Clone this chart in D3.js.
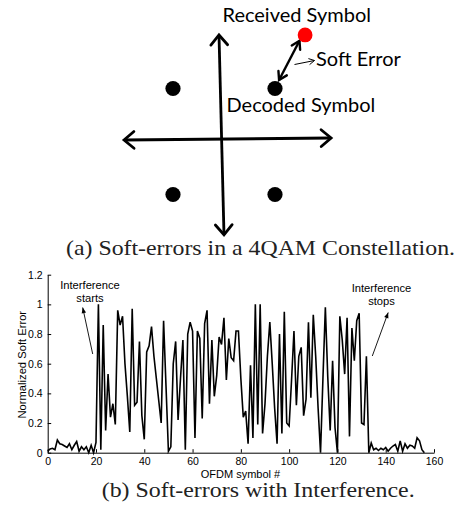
<!DOCTYPE html>
<html><head><meta charset="utf-8">
<script src="https://cdn.jsdelivr.net/npm/d3@7"></script>
<style>
html,body{margin:0;padding:0;background:#fff;}
svg{display:block;}
</style></head>
<body>
<svg id="c" width="459" height="520"></svg>
<script>
// ---------- Panel (a): 4QAM constellation (I/Q units) ----------
const constellationI = [-1, 1, -1, 1];
const constellationQ = [1, 1, -1, -1];
const receivedSymbol = [1.59, 2.01];           // [I, Q]
const softErrorArrow = [[1.08, 1.16], [1.48, 1.90]];
const axisI = [[-1.96, 0.028], [2.10, 0.066]]; // in-phase axis ends
const axisQ = [[-0.098, 2.01], [0.0, -1.76]];  // quadrature axis ends
const labelsA = ["Received Symbol", "Soft Error", "Decoded Symbol"];
const captionA = "(a) Soft-errors in a 4QAM Constellation.";

// ---------- Panel (b): soft error per OFDM symbol ----------
const softError = [
 0.01,0.025,0.03,0.02,0.085,0.06,0.055,0.045,0.035,0.06,
 0.02,0.05,0.075,0.01,0.04,0.02,0.04,0.0,0.05,0.0,
 0.07,1.0,0.02,0.86,0.15,0.53,0.24,0.33,0.19,0.96,
 0.86,0.92,0.6,0.38,0.14,0.97,0.32,0.34,0.75,0.25,
 0.09,0.68,0.72,0.85,0.65,0.5,0.35,0.2,0.89,0.45,
 0.01,0.04,0.6,0.75,0.22,0.5,0.76,0.02,0.8,0.88,
 0.82,0.1,0.82,0.77,0.23,0.87,0.96,0.33,0.76,0.38,
 0.52,0.78,0.73,0.91,0.49,0.77,0.64,0.62,0.82,0.82,
 0.5,0.24,0.28,0.06,0.59,0.10,1.0,0.19,1.0,0.13,
 0.33,0.65,0.88,0.6,0.3,0.06,0.8,0.13,0.95,0.2,
 0.18,0.49,0.82,0.32,0.65,0.71,0.25,0.36,0.88,0.37,
 0.93,0.65,0.3,0.0,0.5,0.98,0.51,0.15,0.62,0.17,
 0.0,0.92,0.76,0.53,0.91,0.11,0.84,0.62,0.89,0.94,
 0.2,0.19,0.65,0.0,0.065,0.02,0.03,0.015,0.03,0.02,
 0.035,0.01,0.03,0.045,0.055,0.01,0.08,0.01,0.06,0.03,
 0.05,0.045,0.03,0.1,0.08,0.02,0.0
];
const xTicks = [0,20,40,60,80,100,120,140,160];
const yTicks = [0,0.2,0.4,0.6,0.8,1,1.2];
const xLabel = "OFDM symbol #";
const yLabel = "Normalized Soft Error";
const annotStart = ["Interference", "starts"];
const annotStop = ["Interference", "stops"];
const captionB = "(b) Soft-errors with Interference.";

const svg = d3.select("#c");

// ---- panel (a) ----
const xA = d3.scaleLinear().domain([-1, 1]).range([173, 275]);
const yA = d3.scaleLinear().domain([-1, 1]).range([194.5, 88.5]);
const gA = svg.append("g");

function chevron(g, x1, y1, x2, y2, len, ang, sw) {
  const a = Math.atan2(y2 - y1, x2 - x1);
  const p1 = [x2 - len * Math.cos(a - ang), y2 - len * Math.sin(a - ang)];
  const p2 = [x2 - len * Math.cos(a + ang), y2 - len * Math.sin(a + ang)];
  g.append("path").attr("d", `M${p1[0]},${p1[1]}L${x2},${y2}L${p2[0]},${p2[1]}`)
    .attr("fill", "none").attr("stroke", "#000").attr("stroke-width", sw)
    .attr("stroke-linecap", "round").attr("stroke-linejoin", "miter");
}
function dblArrow(g, pts, len, ang, sw) {
  const [x1, y1] = [xA(pts[0][0]), yA(pts[0][1])];
  const [x2, y2] = [xA(pts[1][0]), yA(pts[1][1])];
  g.append("line").attr("x1", x1).attr("y1", y1).attr("x2", x2).attr("y2", y2)
    .attr("stroke", "#000").attr("stroke-width", sw);
  chevron(g, x1, y1, x2, y2, len, ang, sw);
  chevron(g, x2, y2, x1, y1, len, ang, sw);
}
dblArrow(gA, axisI, 13, 0.7, 2.8);
dblArrow(gA, axisQ, 13, 0.7, 2.8);
dblArrow(gA, softErrorArrow, 9, 0.55, 2.4);

gA.selectAll("circle.sym").data(constellationI).join("circle")
  .attr("class", "sym")
  .attr("cx", d => xA(d)).attr("cy", (d, i) => yA(constellationQ[i]))
  .attr("r", 7.6).attr("fill", "#000");
gA.append("circle").attr("cx", xA(receivedSymbol[0])).attr("cy", yA(receivedSymbol[1]))
  .attr("r", 7.4).attr("fill", "#ff0000");

gA.append("line").attr("x1", 294.5).attr("y1", 64.5).attr("x2", 314.5).attr("y2", 60.5)
  .attr("stroke", "#000").attr("stroke-width", 1);
chevron(gA, 294.5, 64.5, 314.5, 60.5, 6, 0.5, 1);

const fA = "Lato, 'Open Sans', sans-serif";
gA.append("text").attr("x", 222.5).attr("y", 22).text(labelsA[0])
  .attr("font-family", fA).attr("font-size", 20).attr("fill", "#000");
gA.append("text").attr("x", 316).attr("y", 65.7).text(labelsA[1])
  .attr("font-family", fA).attr("font-size", 20).attr("fill", "#000");
gA.append("text").attr("x", 226.5).attr("y", 111.5).text(labelsA[2])
  .attr("font-family", fA).attr("font-size", 20).attr("fill", "#000");

const fCap = "'Liberation Serif', 'Times New Roman', serif";
svg.append("text").attr("x", 66).attr("y", 254.5)
  .attr("textLength", 389).attr("lengthAdjust", "spacingAndGlyphs")
  .attr("font-family", fCap).attr("font-size", 21).attr("fill", "#222").text(captionA);

// ---- panel (b) ----
const x = d3.scaleLinear().domain([0, 160]).range([47.7, 434]);
const y = d3.scaleLinear().domain([0, 1.2]).range([452.7, 274.7]);
const gB = svg.append("g");
const fB = "'Liberation Sans', Arial, sans-serif";

const xAxis = d3.axisBottom(x).tickValues(xTicks).tickFormat(d3.format("d"))
  .tickSizeInner(-3.5).tickSizeOuter(0).tickPadding(5);
const gx = gB.append("g").attr("transform", `translate(0,${y(0)})`).call(xAxis);
const yAxis = d3.axisLeft(y).tickValues(yTicks).tickFormat(d => d3.format("~g")(d))
  .tickSizeInner(-3.5).tickSizeOuter(0).tickPadding(5);
const gy = gB.append("g").attr("transform", `translate(${x(0)},0)`).call(yAxis);
[gx, gy].forEach(g => {
  g.select(".domain").attr("stroke", "#000").attr("stroke-width", 1);
  g.selectAll(".tick line").attr("stroke", "#000").attr("stroke-width", 1);
  g.selectAll(".tick text").attr("font-family", fB).attr("font-size", 10.5).attr("fill", "#000");
});
gx.selectAll(".tick text").attr("dy", "0.71em");

gB.append("path").datum(softError)
  .attr("d", d3.line().x((d, i) => x(i)).y(d => y(d)))
  .attr("fill", "none").attr("stroke", "#000").attr("stroke-width", 1.6)
  .attr("stroke-linejoin", "miter");

gB.append("text").attr("x", 240.5).attr("y", 477.5).attr("text-anchor", "middle")
  .attr("font-family", fB).attr("font-size", 11).attr("fill", "#000").text(xLabel);
gB.append("text").attr("transform", `translate(26,${364.7}) rotate(-90)`)
  .attr("text-anchor", "middle").attr("font-family", fB).attr("font-size", 11.2)
  .attr("fill", "#000").text(yLabel);

function annot(lines, cx, y0, from, to) {
  lines.forEach((t, i) => gB.append("text").attr("x", cx).attr("y", y0 + i * 12.8)
    .attr("text-anchor", "middle").attr("font-family", fB).attr("font-size", 11.2)
    .attr("fill", "#000").text(t));
  gB.append("line").attr("x1", from[0]).attr("y1", from[1]).attr("x2", to[0]).attr("y2", to[1])
    .attr("stroke", "#000").attr("stroke-width", 0.9);
  const a = Math.atan2(to[1] - from[1], to[0] - from[0]);
  const L = 6, w = 0.38;
  const p1 = [to[0] - L * Math.cos(a - w), to[1] - L * Math.sin(a - w)];
  const p2 = [to[0] - L * Math.cos(a + w), to[1] - L * Math.sin(a + w)];
  gB.append("path").attr("d", `M${to[0]},${to[1]}L${p1[0]},${p1[1]}L${p2[0]},${p2[1]}Z`)
    .attr("fill", "#000");
}
annot(annotStart, 90, 289, [92.7, 354], [82.7, 307.5]);
annot(annotStop, 381.5, 292, [372.3, 356], [388.2, 312.5]);

svg.append("text").attr("x", 101.7).attr("y", 497)
  .attr("textLength", 313).attr("lengthAdjust", "spacingAndGlyphs")
  .attr("font-family", fCap).attr("font-size", 21).attr("fill", "#222").text(captionB);
</script>
</body></html>
